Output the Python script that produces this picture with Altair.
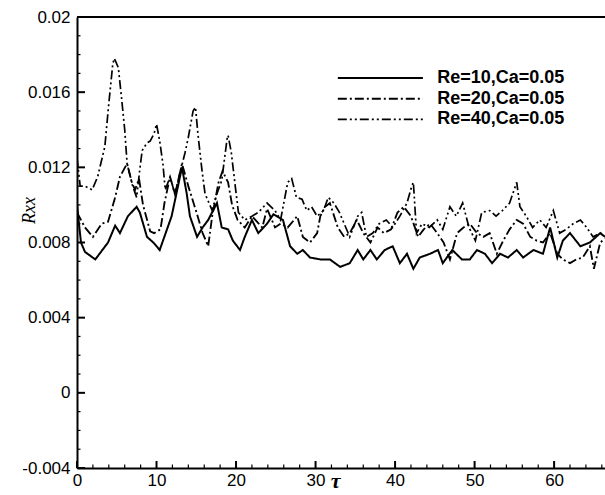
import altair as alt
import pandas as pd

# Autocorrelation Rxx versus time lag tau for three Reynolds numbers
series_names = ["Re=10,Ca=0.05", "Re=20,Ca=0.05", "Re=40,Ca=0.05"]

t_re10 = [0, 0.5, 1, 2.3, 3.9, 4.8, 5.4, 6.4, 7.5, 7.9, 8.8, 9.6, 10.4, 11.9, 13.2, 13.8,
          14.2, 15.1, 15.8, 16.5, 17.6, 18.2, 19.0, 19.6, 20.5, 21.1, 22.0, 22.8, 23.9, 24.7,
          25.9, 26.8, 27.7, 28.4, 29.3, 30.6, 31.8, 33.1, 34.3, 35.3, 36.0, 36.9, 37.7, 38.7,
          39.7, 40.6, 41.5, 42.3, 43.1, 44.4, 45.4, 46.0, 47.2, 48.4, 49.4, 50.3, 51.3, 52.2,
          53.2, 54.2, 55.3, 56.1, 57.4, 58.6, 59.5, 60.4, 61.1, 62.0, 63.3, 64.5, 65.8, 66.4]
v_re10 = [0.0100, 0.0080, 0.0075, 0.0071, 0.0080, 0.0089, 0.0085, 0.0094, 0.0099, 0.0096,
          0.0083, 0.0080, 0.0076, 0.0094, 0.0120, 0.0106, 0.0094, 0.0083, 0.0088, 0.0092,
          0.0101, 0.0088, 0.0087, 0.0081, 0.0076, 0.0083, 0.0092, 0.0085, 0.0090, 0.0095,
          0.0092, 0.0078, 0.0074, 0.0076, 0.0072, 0.0071, 0.0071, 0.0067, 0.0069, 0.0076,
          0.0071, 0.0076, 0.0071, 0.0076, 0.0078, 0.0069, 0.0074, 0.0066, 0.0072, 0.0074,
          0.0076, 0.0069, 0.0076, 0.0071, 0.0071, 0.0076, 0.0074, 0.0069, 0.0074, 0.0072,
          0.0076, 0.0072, 0.0076, 0.0074, 0.0088, 0.0072, 0.0081, 0.0085, 0.0078, 0.0080,
          0.0085, 0.0083]

t_re20 = [0, 1, 2, 3.1, 3.9, 4.8, 5.4, 6.3, 6.9, 7.3, 7.8, 8.3, 9.2, 9.7, 10.5, 11.0, 11.7,
          12.3, 12.7, 13.2, 14.0, 15.1, 15.8, 16.5, 17.0, 17.8, 18.3, 19.0, 19.5, 20.2, 21.1,
          22.0, 23.3, 23.9, 24.9, 25.6, 26.5, 27.7, 28.4, 29.3, 30.2, 30.6, 31.2, 31.8, 32.8,
          33.6, 34.3, 35.2, 36.0, 36.9, 37.8, 38.6, 39.5, 40.3, 41.1, 42.0, 42.9, 43.6, 44.4,
          45.3, 46.1, 46.9, 47.8, 48.6, 49.4, 50.3, 51.1, 51.9, 52.8, 53.6, 54.4, 55.3, 56.1,
          57.0, 57.8, 58.6, 59.5, 60.4, 61.1, 62.0, 62.8, 63.6, 64.5, 65.0, 65.8, 66.4]
v_re20 = [0.0096, 0.0088, 0.0083, 0.0090, 0.0091, 0.0104, 0.0115, 0.0122, 0.0112, 0.0108,
          0.0114, 0.0100, 0.0086, 0.0085, 0.0087, 0.0101, 0.0115, 0.0106, 0.0112, 0.0122,
          0.0110, 0.0095, 0.0085, 0.0078, 0.0094, 0.0112, 0.0118, 0.0112, 0.0100, 0.0092,
          0.0088, 0.0094, 0.0088, 0.0098, 0.0088, 0.0090, 0.0088, 0.0094, 0.0083, 0.0080,
          0.0085, 0.0094, 0.0099, 0.0101, 0.0088, 0.0083, 0.0085, 0.0092, 0.0085, 0.0080,
          0.0088, 0.0085, 0.0087, 0.0096, 0.0099, 0.0094, 0.0083, 0.0087, 0.0090, 0.0085,
          0.0080, 0.0071, 0.0085, 0.0088, 0.0090, 0.0085, 0.0083, 0.0085, 0.0074, 0.0081,
          0.0087, 0.0092, 0.0090, 0.0083, 0.0081, 0.0080, 0.0085, 0.0074, 0.0071, 0.0069,
          0.0071, 0.0072, 0.0078, 0.0066, 0.0080, 0.0082]

t_re40 = [0, 0.4, 1.0, 1.9, 2.6, 3.5, 4.0, 4.5, 4.7, 5.2, 5.6, 6.0, 6.3, 6.7, 7.0, 7.5, 7.9,
          8.2, 8.8, 9.2, 9.7, 10.0, 10.4, 10.8, 11.1, 11.7, 12.3, 13.0, 13.6, 14.0, 14.6,
          14.9, 15.2, 15.7, 16.1, 17.0, 17.6, 18.2, 18.9, 19.0, 19.4, 19.9, 20.3, 21.1, 22.0,
          22.8, 23.9, 24.9, 25.6, 26.5, 27.0, 27.6, 28.3, 28.9, 29.5, 30.2, 31.0, 31.6, 32.3,
          33.0, 33.6, 34.3, 35.3, 35.8, 36.4, 37.2, 38.0, 38.9, 39.7, 40.6, 41.5, 42.1, 42.3,
          42.7, 43.4, 44.3, 45.3, 46.0, 46.9, 47.7, 48.5, 49.3, 50.1, 50.9, 51.9, 52.7, 53.5,
          54.4, 55.3, 55.7, 56.5, 57.3, 58.2, 59.0, 59.9, 60.7, 61.5, 62.4, 63.3, 64.1, 64.9,
          65.8, 66.4]
v_re40 = [0.0125, 0.0110, 0.0110, 0.0108, 0.0115, 0.0131, 0.0154, 0.0175, 0.0178, 0.0173,
          0.0157, 0.0140, 0.0122, 0.0115, 0.0110, 0.0104, 0.0119, 0.0129, 0.0133, 0.0134,
          0.0138, 0.0143, 0.0134, 0.0122, 0.0108, 0.0115, 0.0106, 0.0118, 0.0128, 0.0136,
          0.0150, 0.0152, 0.0138, 0.0119, 0.0106, 0.0097, 0.0106, 0.0113, 0.0136, 0.0137,
          0.0128, 0.0110, 0.0096, 0.0092, 0.0094, 0.0096, 0.0101, 0.0097, 0.0092, 0.0112,
          0.0114, 0.0104, 0.0103, 0.0097, 0.0099, 0.0094, 0.0097, 0.0104, 0.0101, 0.0096,
          0.0090, 0.0083, 0.0094, 0.0096, 0.0083, 0.0085, 0.0090, 0.0092, 0.0088, 0.0094,
          0.0101, 0.0110, 0.0112, 0.0085, 0.0090, 0.0088, 0.0092, 0.0087, 0.0099, 0.0094,
          0.0101, 0.0088, 0.0081, 0.0096, 0.0097, 0.0094, 0.0097, 0.0101, 0.0112, 0.0099,
          0.0094, 0.0088, 0.0092, 0.0088, 0.0097, 0.0085, 0.0087, 0.0090, 0.0092, 0.0088,
          0.0083, 0.0085, 0.0084]

x_major = [0, 10, 20, 30, 40, 50, 60]
x_minor = [2, 4, 6, 8, 12, 14, 16, 18, 22, 24, 26, 28, 32, 34, 36, 38, 42, 44, 46, 48,
           52, 54, 56, 58, 62, 64, 66]
y_major = [-0.004, 0.0, 0.004, 0.008, 0.012, 0.016, 0.02]
y_minor = [-0.003, -0.002, -0.001, 0.001, 0.002, 0.003, 0.005, 0.006, 0.007, 0.009, 0.010,
           0.011, 0.013, 0.014, 0.015, 0.017, 0.018, 0.019]

# legend anchor rows in data units
legend_t0, legend_t1, legend_text_t = 32.8, 43.5, 45.3
legend_v = [0.01675, 0.01565, 0.01455]

W, H = 528, 451
X_DOM = [0, 66.4]
Y_DOM = [-0.004, 0.02]
FONT = "Liberation Sans"
SERIF = "Liberation Serif"

frames = []
for name, ts, vs in [(series_names[0], t_re10, v_re10),
                     (series_names[1], t_re20, v_re20),
                     (series_names[2], t_re40, v_re40)]:
    frames.append(pd.DataFrame({"tau": ts, "rxx": vs, "series": name, "order": range(len(ts))}))
df = pd.concat(frames, ignore_index=True)

dash_scale = alt.Scale(domain=series_names, range=[[1, 0], [9, 3, 2, 3], [9, 3, 2, 3, 2, 3]])
width_scale = alt.Scale(domain=series_names, range=[2.0, 1.7, 1.7])

xs = alt.Scale(domain=X_DOM, nice=False, zero=False)
ys = alt.Scale(domain=Y_DOM, nice=False, zero=False)

lines = alt.Chart(df).mark_line(color="black", clip=True, strokeCap="butt").encode(
    x=alt.X("tau:Q", scale=xs,
            axis=alt.Axis(values=x_major, format="d", ticks=False, grid=False,
                          domainColor="black", domainWidth=2,
                          labelFont=FONT, labelFontSize=17, labelColor="black", labelPadding=4,
                          labelFlush=False,
                          title="τ", titleFont=SERIF, titleFontSize=22, titleFontWeight="bold",
                          titleFontStyle="italic", titleColor="black",
                          titleX=258, titleY=2, titleBaseline="top")),
    y=alt.Y("rxx:Q", scale=ys,
            axis=alt.Axis(values=y_major, ticks=False, grid=False,
                          domainColor="black", domainWidth=2,
                          labelExpr="datum.value == 0 ? '0' : replace(format(datum.value, '.3~f'), '\u2212', '-')",
                          labelFont=FONT, labelFontSize=17, labelColor="black", labelPadding=7,
                          labelFlush=False,
                          title="Rxx", titleFont=SERIF, titleFontSize=18,
                          titleFontStyle="italic", titleFontWeight="normal", titleColor="black",
                          titleX=-48, titleY=193, titleAngle=270, titleBaseline="middle",
                          titleAlign="center")),
    strokeDash=alt.StrokeDash("series:N", scale=dash_scale, legend=None),
    strokeWidth=alt.StrokeWidth("series:N", scale=width_scale, legend=None),
    detail="series:N",
    order="order:Q",
)

# inward-pointing tick marks
xmaj = alt.Chart(pd.DataFrame({"t": x_major})).mark_rule(color="black", strokeWidth=2).encode(
    x=alt.X("t:Q", scale=xs), y=alt.value(H), y2=alt.value(H - 7))
xmin = alt.Chart(pd.DataFrame({"t": x_minor})).mark_rule(color="black", strokeWidth=1.2).encode(
    x=alt.X("t:Q", scale=xs), y=alt.value(H), y2=alt.value(H - 3.5))
ymaj = alt.Chart(pd.DataFrame({"v": y_major})).mark_rule(color="black", strokeWidth=2).encode(
    y=alt.Y("v:Q", scale=ys), x=alt.value(0), x2=alt.value(8))
ymin = alt.Chart(pd.DataFrame({"v": y_minor})).mark_rule(color="black", strokeWidth=1.2).encode(
    y=alt.Y("v:Q", scale=ys), x=alt.value(0), x2=alt.value(3.5))

top_border = alt.Chart(pd.DataFrame({"a": [0]})).mark_rule(color="black", strokeWidth=2).encode(
    y=alt.value(0), x=alt.value(0), x2=alt.value(W))

leg_df = pd.DataFrame({"series": series_names, "v": legend_v,
                       "t0": [legend_t0] * 3, "t1": [legend_t1] * 3,
                       "tt": [legend_text_t] * 3})
leg_lines = alt.Chart(leg_df).mark_rule(color="black", strokeCap="butt").encode(
    x=alt.X("t0:Q", scale=xs), x2="t1:Q", y=alt.Y("v:Q", scale=ys),
    strokeDash=alt.StrokeDash("series:N", scale=dash_scale, legend=None),
    strokeWidth=alt.StrokeWidth("series:N", scale=width_scale, legend=None),
)
leg_text = alt.Chart(leg_df).mark_text(align="left", baseline="middle", font=FONT,
                                       fontSize=18, fontWeight="bold", color="black").encode(
    x=alt.X("tt:Q", scale=xs), y=alt.Y("v:Q", scale=ys), text="series:N")

chart = alt.layer(lines, xmaj, xmin, ymaj, ymin, top_border, leg_lines, leg_text).properties(
    width=W, height=H,
    padding={"left": 77, "top": 17, "right": 0, "bottom": 27},
    autosize=alt.AutoSizeParams(type="none"),
    background="white",
).configure_view(stroke=None)

chart.save("out.html", embed_options={"renderer": "svg", "actions": False})
